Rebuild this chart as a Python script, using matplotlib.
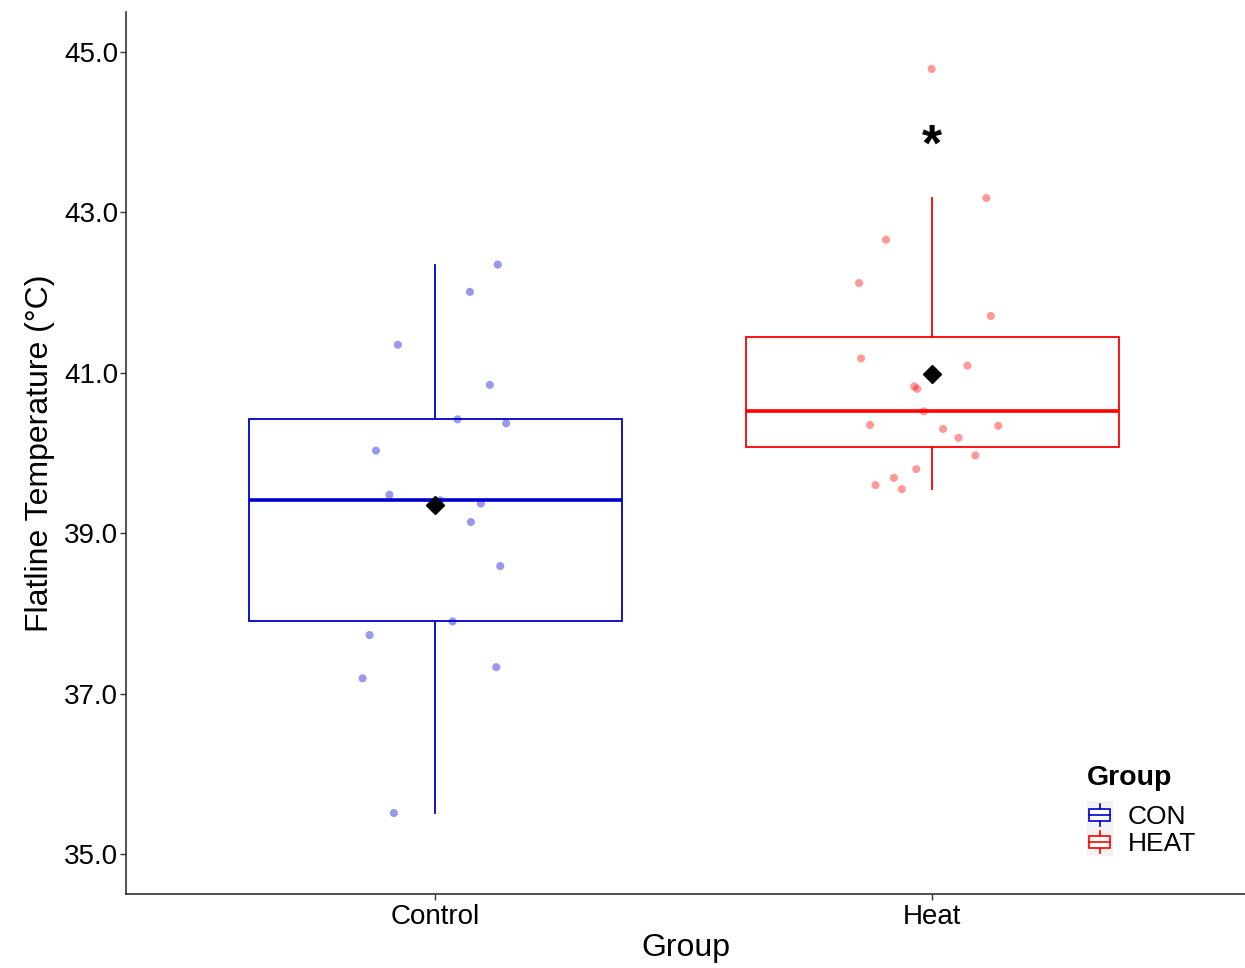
#!/usr/bin/env python3
"""Box plot of flatline temperature by group with jittered points and means."""

import matplotlib

matplotlib.use("Agg")
import matplotlib.pyplot as plt
import numpy as np
from matplotlib.legend_handler import HandlerBase
from matplotlib.patches import Rectangle
from matplotlib.lines import Line2D

plt.rcParams["font.family"] = ["Liberation Sans", "DejaVu Sans"]

categories = ["Control", "Heat"]
legend_labels = ["CON", "HEAT"]
colors = ["#0000CD", "#FF0000"]

control_values = [42.35, 42.01, 41.35, 40.85, 40.42, 40.37, 40.03, 39.48, 39.37,
                  39.14, 38.59, 37.90, 37.73, 37.33, 37.19, 35.51, 39.41]
control_jitter = [0.126, 0.070, -0.075, 0.110, 0.045, 0.143, -0.119, -0.092, 0.092,
                  0.072, 0.131, 0.035, -0.132, 0.123, -0.146, -0.083, 0.010]

heat_values = [44.79, 43.18, 42.66, 42.12, 41.71, 41.18, 41.09, 40.83, 40.80, 40.52,
               40.35, 40.34, 40.30, 40.19, 39.97, 39.80, 39.69, 39.60, 39.55]
heat_jitter = [-0.001, 0.109, -0.093, -0.147, 0.118, -0.143, 0.071, -0.036, -0.030,
               -0.017, -0.125, 0.133, 0.022, 0.053, 0.087, -0.032, -0.077, -0.114,
               -0.061]

y_ticks = [35.0, 37.0, 39.0, 41.0, 43.0, 45.0]
signif_label = "*"
signif_y = 43.93


class BoxKeyHandler(HandlerBase):
    """Legend key drawn as a small box-and-whisker on a grey tile."""

    def __init__(self, color):
        super().__init__()
        self.color = color

    def create_artists(self, legend, orig_handle, xdescent, ydescent,
                       width, height, fontsize, trans):
        bg = Rectangle((-xdescent, -ydescent - 1.5), width, height + 3,
                       facecolor="#F2F2F2", edgecolor="none", transform=trans)
        cx = -xdescent + width / 2
        bw = width * 0.8
        bottom = -ydescent + height * 0.25
        bh = height * 0.5
        box = Rectangle((cx - bw / 2, bottom), bw, bh, facecolor="white",
                        edgecolor=self.color, lw=1.2, transform=trans)
        mid = Line2D([cx - bw / 2, cx + bw / 2], [bottom + bh / 2] * 2,
                     color=self.color, lw=1.2, transform=trans)
        w1 = Line2D([cx, cx], [-ydescent + height * 0.02, bottom],
                    color=self.color, lw=1.2, transform=trans)
        w2 = Line2D([cx, cx], [bottom + bh, -ydescent + height * 0.98],
                    color=self.color, lw=1.2, transform=trans)
        return [bg, box, mid, w1, w2]


def main():
    fig = plt.figure(figsize=(12.45, 9.68), dpi=100)
    ax = fig.add_axes([0.1012, 0.0764, 0.8988, 0.9112])

    groups = [(control_values, control_jitter), (heat_values, heat_jitter)]
    positions = [1, 2]

    for (vals, jit), pos, col in zip(groups, positions, colors):
        ax.boxplot(
            [vals], positions=[pos], widths=0.75, whis=1.5, showfliers=False,
            patch_artist=True,
            boxprops=dict(facecolor="white", edgecolor=col, linewidth=1.3),
            medianprops=dict(color=col, linewidth=2.6),
            whiskerprops=dict(color=col, linewidth=1.3),
            capprops=dict(linewidth=0),
            zorder=1,
        )
        xs = pos + np.array(jit)
        ax.scatter(xs, vals, s=34, color=col, alpha=0.4, edgecolors="none",
                   zorder=2)
        ax.plot([pos], [np.mean(vals)], marker="D", color="black",
                markersize=9.5, linestyle="none", zorder=3)

    ax.text(2, signif_y - 0.12, signif_label, ha="center", va="center",
            fontsize=37, fontweight="bold")

    ax.set_xlim(0.378, 2.6295)
    ax.set_ylim(34.5, 45.5)
    ax.set_xticks(positions, categories)
    ax.set_yticks(y_ticks, [f"{t:.1f}" for t in y_ticks])
    ax.tick_params(axis="both", labelsize=20, length=4, width=1.0,
                   colors="#333333", labelcolor="black")
    ax.tick_params(axis="x", pad=3)
    ax.tick_params(axis="y", pad=1.5)

    for side in ["top", "right"]:
        ax.spines[side].set_visible(False)
    for side in ["left", "bottom"]:
        ax.spines[side].set_linewidth(1.2)
        ax.spines[side].set_color("#333333")

    ax.set_xlabel("Group", fontsize=23, labelpad=2)
    ax.set_ylabel("Flatline Temperature (°C)", fontsize=23, labelpad=7)

    handles = [Rectangle((0, 0), 1, 1) for _ in legend_labels]
    handler_map = {h: BoxKeyHandler(c) for h, c in zip(handles, colors)}
    leg = ax.legend(handles, legend_labels, title="Group", handler_map=handler_map,
                    loc="lower left", bbox_to_anchor=(0.8585, 0.043),
                    frameon=False, fontsize=19, title_fontsize=20.5,
                    handlelength=1.0, handleheight=1.0, handletextpad=0.55,
                    labelspacing=0.05, borderaxespad=0, borderpad=0)
    leg.get_title().set_fontweight("bold")
    leg._legend_box.align = "left"
    leg._legend_box.sep = 9

    fig.savefig("out.png", dpi=100)


if __name__ == "__main__":
    main()
